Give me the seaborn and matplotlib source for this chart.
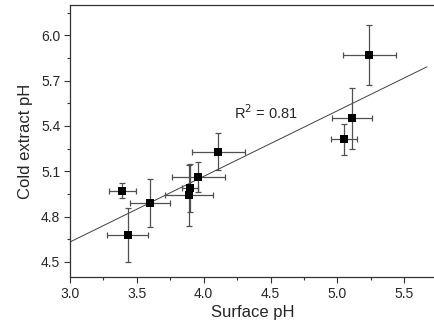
import numpy as np
import pandas as pd
import matplotlib
matplotlib.use("Agg")
import matplotlib.pyplot as plt
import seaborn as sns
from matplotlib.ticker import MultipleLocator

surface_ph = [3.39, 3.43, 3.60, 3.89, 3.90, 3.96, 4.11, 5.05, 5.11, 5.24]
cold_ph    = [4.97, 4.68, 4.89, 4.94, 4.99, 5.06, 5.23, 5.31, 5.45, 5.87]
surface_err = [0.10, 0.15, 0.15, 0.18, 0.06, 0.20, 0.20, 0.10, 0.15, 0.20]
cold_err    = [0.05, 0.18, 0.16, 0.20, 0.16, 0.10, 0.12, 0.10, 0.20, 0.20]
r2_label = "R$^2$ = 0.81"
x_ticks = [3.0, 3.5, 4.0, 4.5, 5.0, 5.5]
y_ticks = [4.5, 4.8, 5.1, 5.4, 5.7, 6.0]

df = pd.DataFrame({"Surface pH": surface_ph, "Cold extract pH": cold_ph})

sns.set_style("ticks")
plt.rcParams["font.family"] = ["Liberation Sans", "DejaVu Sans"]

fig = plt.figure(figsize=(4.35, 3.31), dpi=100)
ax = fig.add_axes([0.161, 0.163, 0.839, 0.822])

ax.errorbar(surface_ph, cold_ph, xerr=surface_err, yerr=cold_err, fmt="none",
            ecolor="#505050", elinewidth=0.9, capsize=2.5, capthick=0.9, zorder=2)
sns.scatterplot(data=df, x="Surface pH", y="Cold extract pH", marker="s", s=40,
                color="black", edgecolor="black", linewidth=0, ax=ax, zorder=3)

slope, intercept = np.polyfit(surface_ph, cold_ph, 1)
xl = np.array([3.0, 5.67])
ax.plot(xl, slope * xl + intercept, color="#404040", lw=0.7, zorder=1)

ax.text(4.23, 5.487, r2_label, fontsize=10.5, va="center", ha="left")

ax.set_xlim(3.0, 5.73)
ax.set_ylim(4.4, 6.2)
ax.set_xticks(x_ticks)
ax.set_yticks(y_ticks)
ax.set_xticklabels([f"{t:.1f}" for t in x_ticks])
ax.set_yticklabels([f"{t:.1f}" for t in y_ticks])
ax.xaxis.set_minor_locator(MultipleLocator(0.25))
ax.yaxis.set_minor_locator(MultipleLocator(0.15))
ax.tick_params(which="major", length=4, width=0.8, labelsize=10, color="#333333", pad=3)
ax.tick_params(which="minor", length=2.5, width=0.8, color="#333333")
for s in ["left", "bottom", "top"]:
    ax.spines[s].set_linewidth(0.9)
    ax.spines[s].set_color("#333333")
ax.spines["right"].set_visible(False)
ax.set_xlabel("Surface pH", fontsize=12, labelpad=3)
ax.set_ylabel("Cold extract pH", fontsize=12, labelpad=6)

fig.savefig("out.png", dpi=100)
